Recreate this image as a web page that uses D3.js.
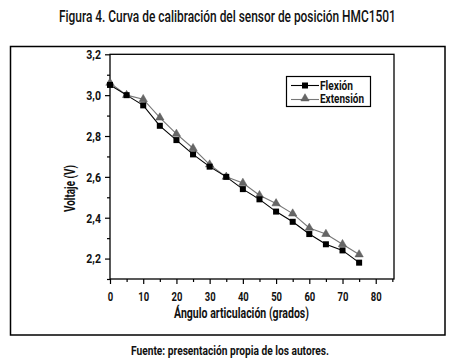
<!DOCTYPE html>
<html><head><meta charset="utf-8">
<script src="https://cdn.jsdelivr.net/npm/d3@7"></script>
<style>
body{margin:0;background:#fff;}
text{font-family:Roboto,"Liberation Sans",sans-serif;font-weight:700;fill:#111;}
</style></head><body>
<svg id="c" width="455" height="360"></svg>
<script>
const angles = [0,5,10,15,20,25,30,35,40,45,50,55,60,65,70,75];
const flexion = [3.05,3.00,2.95,2.85,2.78,2.71,2.65,2.60,2.54,2.49,2.43,2.38,2.32,2.27,2.24,2.18];
const extension = [3.06,3.00,2.98,2.89,2.81,2.74,2.66,2.60,2.57,2.51,2.47,2.42,2.35,2.32,2.27,2.22];
const xTicks = [0,10,20,30,40,50,60,70,80];
const yTicks = [2.2,2.4,2.6,2.8,3.0,3.2];
const seriesNames = ["Flexión","Extensión"];

const svg = d3.select("#c");
const L=110, R=394, T=54.3, B=279;
const x = d3.scaleLinear().domain([0,85.5]).range([L,R]);
const y = d3.scaleLinear().domain([2.1,3.2]).range([B,T]);
const fmt = d => d3.format(".1f")(d).replace(".",",");

function fit(sel, w){ sel.attr("textLength",w).attr("lengthAdjust","spacingAndGlyphs"); return sel; }
function squeeze(sel, f){ sel.each(function(){ const w=this.getComputedTextLength(); d3.select(this).attr("textLength",w*f).attr("lengthAdjust","spacingAndGlyphs"); }); }

// outer frame
svg.append("rect").attr("x",10.5).attr("y",46.5).attr("width",434.5).attr("height",288.5)
  .attr("fill","none").attr("stroke","#000").attr("stroke-width",1.5);

// title (scaled horizontally to condensed width)
const tg = svg.append("g");
const tt = tg.append("text").attr("x",0).attr("y",0)
  .style("font-size","16px").style("font-weight","500").text("Figura 4. Curva de calibración del sensor de posición HMC1501");
const tw = tt.node().getComputedTextLength();
tg.attr("transform",`translate(59,21.5) scale(${337/tw},1)`);

// plot box
svg.append("rect").attr("x",L).attr("y",T).attr("width",R-L).attr("height",B-T)
  .attr("fill","none").attr("stroke","#000").attr("stroke-width",1.3);

// axes
const xAxis = svg.append("g").attr("transform",`translate(0,${B})`)
  .call(d3.axisBottom(x).tickValues(xTicks).tickSize(5).tickSizeOuter(0).tickFormat(d3.format("d")));
const xMinor = svg.append("g").attr("transform",`translate(0,${B})`)
  .call(d3.axisBottom(x).tickValues(d3.range(5,90,10)).tickSize(3).tickFormat(""));
const yAxis = svg.append("g").attr("transform",`translate(${L},0)`)
  .call(d3.axisLeft(y).tickValues(yTicks).tickSize(5).tickSizeOuter(0).tickFormat(fmt));
const yMinor = svg.append("g").attr("transform",`translate(${L},0)`)
  .call(d3.axisLeft(y).tickValues([2.1,2.3,2.5,2.7,2.9,3.1]).tickSize(3).tickFormat(""));
[xAxis,xMinor,yAxis,yMinor].forEach(g=>{
  g.select(".domain").remove();
  g.selectAll("line").attr("stroke","#000").attr("stroke-width",1.2);
  g.selectAll("text").style("font-size","13.5px").style("font-family","Roboto,'Liberation Sans',sans-serif")
   .style("font-weight","700").attr("fill","#111");
});
xAxis.selectAll("text").attr("dy","1.0em");
yAxis.selectAll("text").attr("dx","-1");
squeeze(xAxis.selectAll("text"),0.7);
squeeze(yAxis.selectAll("text"),0.78);

// axis titles
fit(svg.append("text").attr("x",174).attr("y",317.5)
  .style("font-size","14px").text("Ángulo articulación (grados)"),135);
fit(svg.append("text").attr("transform","translate(74.5,212) rotate(-90)")
  .style("font-size","14px").text("Voltaje (V)"),47);

// footer
fit(svg.append("text").attr("x",131).attr("y",355)
  .style("font-size","13px").text("Fuente: presentación propia de los autores."),198);

// lines
const line = d3.line().x((d,i)=>x(angles[i])).y(d=>y(d));
svg.append("path").datum(extension).attr("d",line).attr("fill","none").attr("stroke","#777").attr("stroke-width",1.1);
svg.append("path").datum(flexion).attr("d",line).attr("fill","none").attr("stroke","#000").attr("stroke-width",1.1);

const tri = d3.symbol().type(d3.symbolTriangle).size(30);
svg.append("g").selectAll("path").data(extension).join("path")
  .attr("d",tri).attr("transform",(d,i)=>`translate(${x(angles[i])},${y(d)})`)
  .attr("fill","#666").attr("stroke","#555").attr("stroke-width",0.5);
svg.append("g").selectAll("rect").data(flexion).join("rect")
  .attr("x",(d,i)=>x(angles[i])-3).attr("y",d=>y(d)-3).attr("width",6).attr("height",6).attr("fill","#000");

// legend
const lg = svg.append("g");
lg.append("rect").attr("x",286.5).attr("y",76.5).attr("width",84).attr("height",30)
  .attr("fill","#fff").attr("stroke","#000").attr("stroke-width",1.2);
lg.append("line").attr("x1",291).attr("x2",319).attr("y1",85.5).attr("y2",85.5).attr("stroke","#000").attr("stroke-width",1.1);
lg.append("rect").attr("x",302).attr("y",82.5).attr("width",6).attr("height",6).attr("fill","#000");
lg.append("line").attr("x1",291).attr("x2",319).attr("y1",99.5).attr("y2",99.5).attr("stroke","#777").attr("stroke-width",1.1);
lg.append("path").attr("d",tri).attr("transform","translate(305,98.5)").attr("fill","#666").attr("stroke","#555").attr("stroke-width",0.5);
fit(lg.append("text").attr("x",320).attr("y",90).style("font-size","12px").text(seriesNames[0]),33);
fit(lg.append("text").attr("x",320).attr("y",102.5).style("font-size","12px").text(seriesNames[1]),44);
</script>
</body></html>
